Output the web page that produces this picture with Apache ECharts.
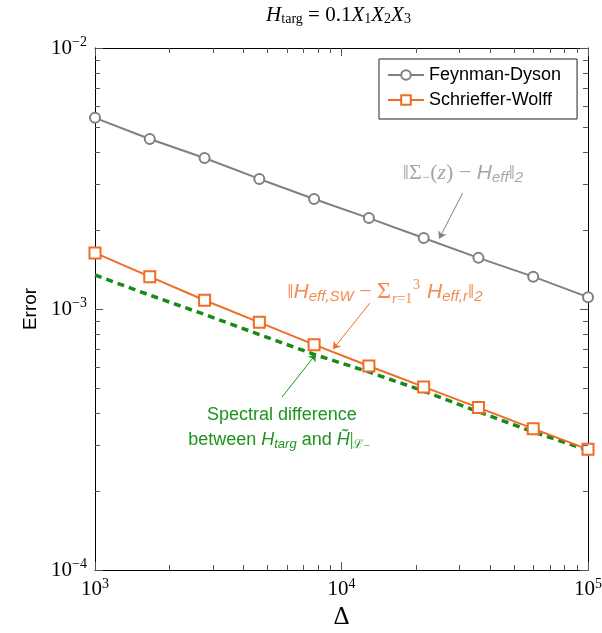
<!DOCTYPE html>
<html>
<head>
<meta charset="utf-8">
<script src="https://cdn.jsdelivr.net/npm/echarts@6/dist/echarts.min.js"></script>
<style>
html, body { margin: 0; padding: 0; background: #fff; }
#chart { width: 602px; height: 633px; }
</style>
</head>
<body>
<div id="chart"></div>
<script>
// values (log-log)
const delta = [1000, 1668, 2783, 4642, 7743, 12915, 21544, 35938, 59948, 100000];
const feynmanDyson = [5.40e-3, 4.48e-3, 3.79e-3, 3.15e-3, 2.64e-3, 2.23e-3, 1.87e-3, 1.57e-3, 1.33e-3, 1.11e-3];
const schriefferWolff = [1.64e-3, 1.33e-3, 1.08e-3, 8.89e-4, 7.30e-4, 6.05e-4, 5.03e-4, 4.19e-4, 3.48e-4, 2.90e-4];
const spectralDiff = [1.35e-3, 1.13e-3, 9.53e-4, 7.98e-4, 6.70e-4, 5.74e-4, 4.85e-4, 4.04e-4, 3.38e-4, 2.88e-4];
const xDecades = [1e3, 1e4, 1e5];
const yDecades = [1e-4, 1e-3, 1e-2];

// annotation anchors, in data coordinates
const grayNote = { at: [3.11e4, 3.32e-3], arrow: [[3.10e4, 2.78e-3], [2.49e4, 1.86e-3]] };
const orangeNote = { at: [1.588e4, 1.162e-3], arrow: [[1.305e4, 1.054e-3], [9.24e3, 7.02e-4]] };
const greenNote = { at: [5.68e3, 3.53e-4], arrow: [[5.74e3, 4.60e-4], [7.88e3, 6.72e-4]] };

const SERIF = "'Liberation Serif', 'DejaVu Serif', serif";
const SANS = "'Liberation Sans', Arial, sans-serif";
const GRAY = '#808080', GRAY_TXT = '#a6a6a6';
const ORANGE = '#f26b22', ORANGE_TXT = '#f58a4e';
const GREEN = '#178a17', GREEN_TXT = '#1c931c';
const TICK = '#555';

const pairs = (xs, ys) => xs.map((x, i) => [x, ys[i]]);

function powLabel(v) {
  const e = Math.round(Math.log10(v));
  return '{b|10}{s|' + String(e).replace('-', '\u2212') + '}';
}
const labelRich = {
  b: { fontFamily: SERIF, fontSize: 21, color: '#000' },
  s: { fontFamily: SERIF, fontSize: 14, color: '#000', padding: [0, 0, 11, 0] }
};

function arrowLine(pts, color) {
  return {
    silent: true,
    symbol: ['none', 'arrow'],
    symbolSize: 7,
    label: { show: false },
    lineStyle: { color: color, width: 1, type: 'solid' },
    emphasis: { disabled: true },
    animation: false,
    data: [[{ coord: pts[0] }, { coord: pts[1] }]]
  };
}

function mathRich(c) {
  return {
    n: { fontFamily: SERIF, fontSize: 22, fill: c },
    ni: { fontFamily: SERIF, fontStyle: 'italic', fontSize: 22, fill: c },
    ns: { fontFamily: SERIF, fontSize: 15, fill: c, padding: [10, 0, 0, 0] },
    h: { fontFamily: SANS, fontStyle: 'italic', fontSize: 21, fill: c },
    hs: { fontFamily: SANS, fontStyle: 'italic', fontSize: 15, fill: c, padding: [10, 0, 0, 0] },
    big: { fontFamily: SERIF, fontSize: 24, fill: c },
    t: { fontFamily: SANS, fontSize: 18, fill: c }
  };
}

const axisCommon = {
  type: 'log',
  logBase: 10,
  axisLine: { show: true, onZero: false, lineStyle: { color: '#000', width: 1 } },
  axisTick: { show: true, inside: true, length: 8, lineStyle: { color: TICK } },
  splitLine: { show: false }
};

const chart = echarts.init(document.getElementById('chart'));
chart.setOption({
  animation: false,
  grid: { left: 95, right: 14, top: 48, bottom: 63, outerBoundsMode: 'none' },
  legend: {
    data: ['Feynman-Dyson', 'Schrieffer-Wolff'],
    orient: 'vertical',
    left: 379,
    top: 59,
    padding: [7, 16, 10, 8],
    itemWidth: 36,
    itemHeight: 12,
    itemGap: 7,
    backgroundColor: '#fff',
    borderColor: '#222',
    borderWidth: 1,
    borderRadius: 0,
    textStyle: { fontFamily: SANS, fontSize: 18, color: '#000' }
  },
  xAxis: [
    Object.assign({}, axisCommon, {
      min: 1e3, max: 1e5,
      name: '\u0394', nameLocation: 'middle', nameGap: 33,
      nameTextStyle: { fontFamily: SERIF, fontSize: 25, color: '#000' },
      axisLabel: { margin: 7, formatter: powLabel, rich: labelRich }
    }),
    Object.assign({}, axisCommon, { min: 1e3, max: 1e5, position: 'top', axisLabel: { show: false } })
  ],
  yAxis: [
    Object.assign({}, axisCommon, {
      min: 1e-4, max: 1e-2,
      name: 'Error', nameLocation: 'middle', nameGap: 55, nameRotate: 90,
      nameTextStyle: { fontFamily: SANS, fontSize: 19, color: '#000' },
      axisLabel: { margin: 8, formatter: powLabel, rich: labelRich }
    }),
    Object.assign({}, axisCommon, { min: 1e-4, max: 1e-2, position: 'right', axisLabel: { show: false } })
  ],
  series: [
    {
      name: 'Spectral difference', type: 'line', z: 2,
      data: pairs(delta, spectralDiff),
      symbol: 'none',
      lineStyle: { color: GREEN, width: 3.5, type: [7, 5] },
      markLine: arrowLine(greenNote.arrow, GREEN_TXT)
    },
    {
      name: 'Schrieffer-Wolff', type: 'line', z: 3,
      data: pairs(delta, schriefferWolff),
      symbol: 'emptyRect', symbolSize: 11,
      itemStyle: { color: ORANGE, borderColor: ORANGE, borderWidth: 2 },
      lineStyle: { color: ORANGE, width: 2 },
      markLine: arrowLine(orangeNote.arrow, ORANGE)
    },
    {
      name: 'Feynman-Dyson', type: 'line', z: 3,
      data: pairs(delta, feynmanDyson),
      symbol: 'emptyCircle', symbolSize: 10,
      itemStyle: { color: GRAY, borderColor: GRAY, borderWidth: 1.8 },
      lineStyle: { color: GRAY, width: 2 },
      markLine: arrowLine(grayNote.arrow, GRAY)
    }
  ]
});

// minor ticks, title and annotation texts placed through the chart's own scales
const P = c => chart.convertToPixel({ seriesIndex: 0 }, c);
const [x0, y0] = P([xDecades[0], yDecades[0]]);
const [x1, y1] = P([xDecades[xDecades.length - 1], yDecades[yDecades.length - 1]]);
const graphics = [];
const tick = (ax, ay, bx, by) => graphics.push({
  type: 'line', silent: true, z: 10,
  shape: { x1: ax, y1: ay, x2: bx, y2: by },
  style: { stroke: TICK, lineWidth: 1 }
});
for (let d = 0; d < xDecades.length - 1; d++) {
  for (let m = 2; m <= 9; m++) {
    const px = Math.round(P([m * xDecades[d], yDecades[0]])[0]) + 0.5;
    tick(px, y0, px, y0 - 5);
    tick(px, y1, px, y1 + 5);
  }
}
for (let d = 0; d < yDecades.length - 1; d++) {
  for (let m = 2; m <= 9; m++) {
    const py = Math.round(P([xDecades[0], m * yDecades[d]])[1]) + 0.5;
    tick(x0, py, x0 + 5, py);
    tick(x1, py, x1 - 5, py);
  }
}

graphics.push({
  type: 'text', silent: true, x: (x0 + x1) / 2 - 3, y: 15,
  style: {
    text: '{i|H}{s|targ}{r| = 0.1}{i|X}{s|1}{i|X}{s|2}{i|X}{s|3}',
    align: 'center', verticalAlign: 'middle',
    rich: {
      i: { fontFamily: SERIF, fontStyle: 'italic', fontSize: 21, fill: '#000' },
      r: { fontFamily: SERIF, fontSize: 21, fill: '#000' },
      s: { fontFamily: SERIF, fontSize: 14, fill: '#000', padding: [9, 0, 0, 0] }
    }
  }
});

const g = P(grayNote.at);
graphics.push({
  type: 'text', silent: true, x: g[0], y: g[1],
  style: {
    text: '{n|\u2016\u03a3}{ns|\u2212}{n|(}{ni|z}{n|) \u2212 }{h|H}{hs|eff}{n|\u2016}{hs|2}',
    align: 'center', verticalAlign: 'middle', rich: mathRich(GRAY_TXT)
  }
});

const o = P(orangeNote.at);
const oRich = mathRich(ORANGE_TXT);
graphics.push({
  type: 'group', silent: true, x: o[0], y: o[1],
  children: [
    { type: 'text', x: 0, y: 0, style: {
      text: '{n|\u2016}{h|H}{hs|eff,SW}{n| \u2212 }{big|\u03a3}',
      align: 'right', verticalAlign: 'middle', rich: oRich } },
    { type: 'text', x: 1, y: 0, style: {
      text: '{p|      3}\n{ri|r}{p|=1}', align: 'left', verticalAlign: 'middle', rich: {
        ri: { fontFamily: SERIF, fontStyle: 'italic', fontSize: 14, lineHeight: 14, fill: ORANGE_TXT },
        p: { fontFamily: SERIF, fontSize: 14, lineHeight: 14, fill: ORANGE_TXT } } } },
    { type: 'text', x: 36, y: 0, style: {
      text: '{h|H}{hs|eff,r}{n|\u2016}{hs|2}',
      align: 'left', verticalAlign: 'middle', rich: oRich } }
  ]
});

const gr = P(greenNote.at);
const gRich = mathRich(GREEN_TXT);
graphics.push({
  type: 'group', silent: true, x: gr[0], y: gr[1],
  children: [
    { type: 'text', x: 1, y: -12, style: {
      text: '{t|Spectral difference}', align: 'center', verticalAlign: 'middle', rich: gRich } },
    { type: 'text', x: -2, y: 13, style: {
      text: '{t|between }{h|H}{hs|targ}{t| and }{h|H\u0303}{n||}{ls|\u2112}{lm|\u2212}',
      align: 'center', verticalAlign: 'middle',
      rich: Object.assign({}, gRich, {
        h: { fontFamily: SANS, fontStyle: 'italic', fontSize: 18, fill: GREEN_TXT },
        hs: { fontFamily: SANS, fontStyle: 'italic', fontSize: 13, fill: GREEN_TXT, padding: [9, 0, 0, 0] },
        n: { fontFamily: SERIF, fontSize: 19, fill: GREEN_TXT },
        ls: { fontFamily: "'DejaVu Serif', serif", fontSize: 12, fill: GREEN_TXT, padding: [9, 0, 0, 0] },
        lm: { fontFamily: SERIF, fontSize: 11, fill: GREEN_TXT, padding: [13, 0, 0, 0] }
      }) } }
  ]
});

chart.setOption({ graphic: graphics });
</script>
</body>
</html>
